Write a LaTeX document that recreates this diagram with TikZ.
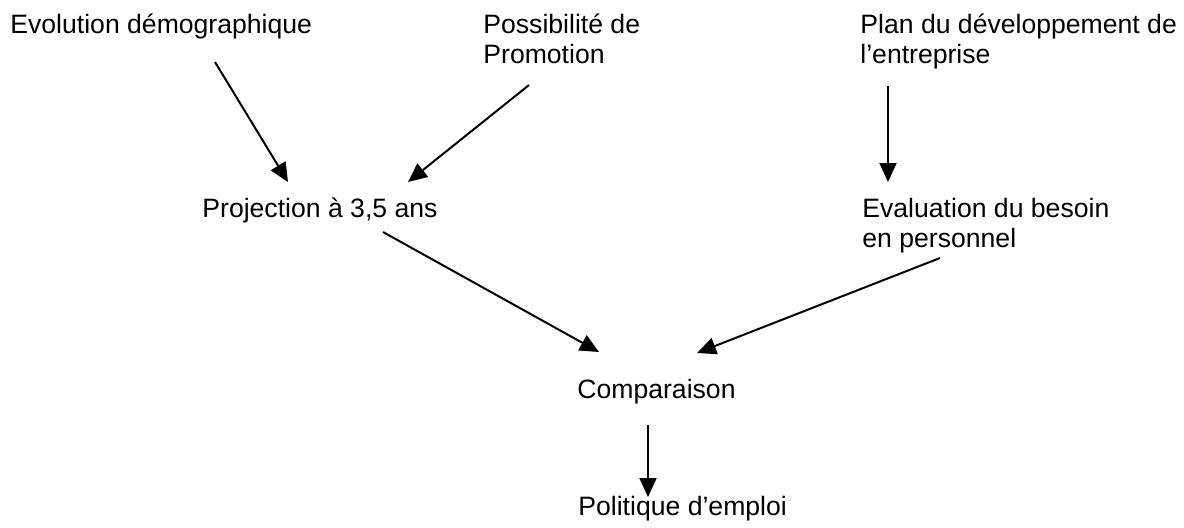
\documentclass[tikz,border=0pt]{standalone}
\usepackage{fontspec}
\setmainfont{Liberation Sans}
\usetikzlibrary{arrows.meta}

\tikzset{
    lbl/.style={anchor=base west, inner sep=0pt, align=left, font=\fontsize{13.3pt}{15pt}\selectfont},
    fleche/.style={line width=1pt, -{Triangle[length=9.5pt, width=8.5pt]}}
}

\begin{document}
\begin{tikzpicture}[x=0.5pt, y=-0.5pt]
    \useasboundingbox (0,0) rectangle (1184,527);

    \node[lbl] (evo) at (10, 33) {Evolution démographique};
    \node[lbl] (poss) at (483, 33) {Possibilité de};
    \node[lbl] (promo) at (483, 63) {Promotion};
    \node[lbl] (plan) at (860, 33) {Plan du développement de};
    \node[lbl] (entr) at (860, 63) {l’entreprise};

    \node[lbl] (proj) at (202, 217) {Projection à 3,5 ans};
    \node[lbl] (evalb) at (862, 217) {Evaluation du besoin};
    \node[lbl] (perso) at (862, 247) {en personnel};

    \node[lbl] (comp) at (577, 398) {Comparaison};
    \node[lbl] (pol) at (578, 515) {Politique d’emploi};

    \draw[fleche] ([shift={(205,29)}]evo.base west) -- ([shift={(86,-35)}]proj.base west);
    \draw[fleche] ([shift={(46,22)}]promo.base west) -- ([shift={(206,-35)}]proj.base west);
    \draw[fleche] ([shift={(28,23)}]entr.base west) -- ([shift={(26,-35)}]evalb.base west);

    \draw[fleche] ([shift={(181,15)}]proj.base west) -- ([shift={(22,-46)}]comp.base west);
    \draw[fleche] ([shift={(78,11)}]perso.base west) -- ([shift={(120,-45)}]comp.base west);

    \draw[fleche] ([shift={(71,27)}]comp.base west) -- ([shift={(70,-18)}]pol.base west);

\end{tikzpicture}
\end{document}
